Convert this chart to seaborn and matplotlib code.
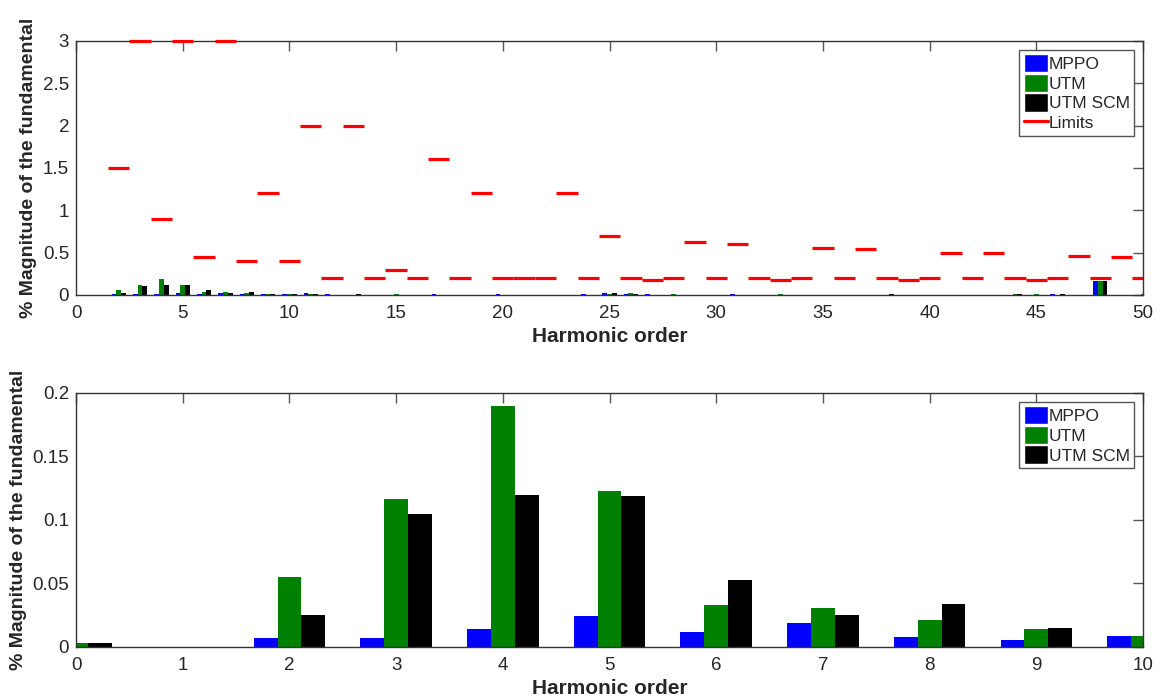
import matplotlib
matplotlib.use("Agg")
import matplotlib.pyplot as plt
import seaborn as sns
import numpy as np
import pandas as pd
from matplotlib.patches import Patch, Rectangle
from matplotlib.lines import Line2D
from matplotlib.ticker import FormatStrFormatter

sns.set_style("white")
plt.rcParams['font.family'] = ['Liberation Sans', 'DejaVu Sans']

# Harmonic orders 0..50
orders = list(range(51))

mppo = [0.003, 0.0, 0.0073, 0.0073, 0.0144, 0.0247, 0.0121, 0.0192, 0.0076, 0.0058,
        0.0089, 0.018, 0.006, 0.004, 0.003, 0.003, 0.004, 0.016, 0.004, 0.005,
        0.006, 0.005, 0.005, 0.004, 0.006, 0.022, 0.008, 0.006, 0.005, 0.003,
        0.003, 0.006, 0.004, 0.003, 0.003, 0.004, 0.004, 0.004, 0.003, 0.003,
        0.004, 0.003, 0.004, 0.003, 0.004, 0.003, 0.012, 0.003, 0.165, 0.004,
        0.005]
utm = [0.0031, 0.0, 0.0554, 0.1168, 0.190, 0.123, 0.0333, 0.031, 0.021, 0.0139,
       0.0084, 0.006, 0.004, 0.005, 0.003, 0.006, 0.004, 0.005, 0.004, 0.003,
       0.004, 0.003, 0.003, 0.004, 0.004, 0.006, 0.020, 0.004, 0.006, 0.003,
       0.004, 0.003, 0.003, 0.006, 0.003, 0.003, 0.003, 0.004, 0.003, 0.003,
       0.003, 0.004, 0.003, 0.003, 0.012, 0.008, 0.004, 0.003, 0.165, 0.003,
       0.006]
utm_scm = [0.0033, 0.0, 0.0255, 0.105, 0.120, 0.119, 0.053, 0.0255, 0.0341, 0.0147,
           0.006, 0.006, 0.003, 0.006, 0.003, 0.005, 0.004, 0.004, 0.003, 0.004,
           0.003, 0.004, 0.003, 0.003, 0.004, 0.020, 0.006, 0.004, 0.004, 0.003,
           0.003, 0.003, 0.003, 0.003, 0.003, 0.003, 0.003, 0.004, 0.006, 0.003,
           0.003, 0.003, 0.003, 0.003, 0.008, 0.004, 0.008, 0.003, 0.165, 0.003,
           0.003]

# Harmonic limits (orders 2..50)
limit_orders = list(range(2, 51))
limit_values = [1.5, 3.0, 0.9, 3.0, 0.45, 3.0, 0.4, 1.2, 0.4, 2.0,
                0.2, 2.0, 0.2, 0.3, 0.2, 1.6, 0.2, 1.2, 0.2, 0.2,
                0.2, 1.2, 0.2, 0.7, 0.2, 0.18, 0.2, 0.63, 0.2, 0.6,
                0.2, 0.18, 0.2, 0.56, 0.2, 0.54, 0.2, 0.18, 0.2, 0.5,
                0.2, 0.49, 0.2, 0.18, 0.2, 0.46, 0.2, 0.45, 0.2]

methods = ["MPPO", "UTM", "UTM SCM"]
colors = {"MPPO": "#0000ff", "UTM": "#008000", "UTM SCM": "#000000"}

df = pd.DataFrame({
    "order": orders * 3,
    "value": mppo + utm + utm_scm,
    "method": [m for m in methods for _ in orders],
})

fig = plt.figure(figsize=(11.61, 6.99), dpi=100)
ax1 = fig.add_axes([0.0655, 0.578, 0.919, 0.3635])
ax2 = fig.add_axes([0.0655, 0.0744, 0.919, 0.3634])

legend_kw = dict(loc="upper right", fontsize=12.5, frameon=True, fancybox=False,
                 edgecolor="#555555", framealpha=1, handlelength=1.4, handleheight=1.25,
                 handletextpad=0.05, labelspacing=0.08, borderpad=0.25,
                 borderaxespad=0.5)


def style_axes(ax):
    ax.tick_params(direction="in", top=True, right=True, length=7, width=1,
                   color="#555555", labelsize=13.5)
    ax.tick_params(axis="x", pad=7)
    ax.tick_params(axis="y", pad=5)
    for s in ax.spines.values():
        s.set_color("#333333")
        s.set_linewidth(1)
    ax.set_xlabel("Harmonic order", fontsize=15, fontweight="bold", labelpad=4)
    ax.set_ylabel("% Magnitude of the fundamental", fontsize=14, fontweight="bold")
    ax.yaxis.set_major_formatter(FormatStrFormatter("%g"))


# Top: full spectrum with limits
sns.barplot(data=df, x="order", y="value", hue="method", hue_order=methods,
            palette=colors, saturation=1, native_scale=True, width=0.67,
            errorbar=None, linewidth=0, legend=False, ax=ax1)
lo = np.array(limit_orders)
lims = ax1.hlines(limit_values, lo - 0.5, lo + 0.5, colors="#ff0000", linewidth=2.3,
                  zorder=5)
# clip only left/right so the dashes at 3 keep their full thickness
lims.set_clip_path(Rectangle((0, -0.05), 1, 1.1, transform=ax1.transAxes))
ax1.set_xlim(0, 50)
ax1.set_ylim(0, 3)
ax1.set_xticks(np.arange(0, 51, 5))
ax1.set_yticks(np.arange(0, 3.01, 0.5))
style_axes(ax1)
h1 = [Patch(facecolor=colors[m], label=m) for m in methods]
h1.append(Line2D([0], [0], color="#ff0000", linewidth=2.3, label="Limits"))
ax1.legend(handles=h1, **legend_kw)

# Bottom: low order harmonics
low = df[df["order"] <= 10]
sns.barplot(data=low, x="order", y="value", hue="method", hue_order=methods,
            palette=colors, saturation=1, native_scale=True, width=0.67,
            errorbar=None, linewidth=0, legend=False, ax=ax2)
ax2.set_xlim(0, 10)
ax2.set_ylim(0, 0.2)
ax2.set_xticks(np.arange(0, 11, 1))
ax2.set_yticks([0, 0.05, 0.1, 0.15, 0.2])
style_axes(ax2)
h2 = [Patch(facecolor=colors[m], label=m) for m in methods]
ax2.legend(handles=h2, **legend_kw)

fig.savefig("out.png", dpi=100)
